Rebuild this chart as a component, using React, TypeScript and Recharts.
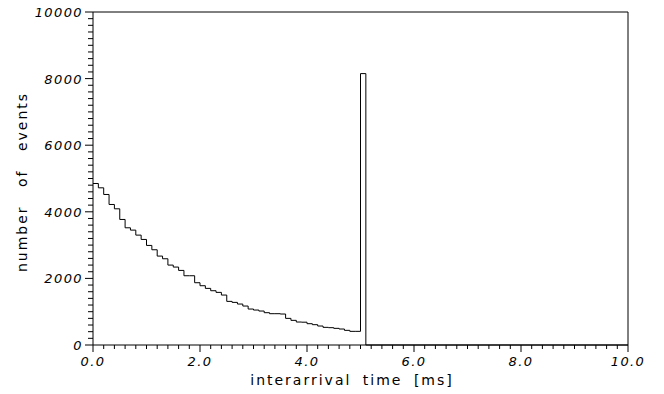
import React from 'react';
import { LineChart, Line, XAxis, YAxis, ReferenceLine } from 'recharts';

// histogram of interarrival times, bins of 0.1 ms starting at 0
const BIN_WIDTH = 0.1;
const counts = [
  4850, 4720, 4520, 4220, 4090, 3770, 3520, 3450, 3300, 3170,
  2990, 2860, 2670, 2590, 2400, 2340, 2240, 2080, 2080, 1870,
  1780, 1700, 1630, 1580, 1500, 1310, 1280, 1230, 1170, 1080,
  1050, 1020, 970, 940, 940, 930, 800, 740, 690, 685,
  640, 610, 570, 530, 520, 500, 480, 440, 410, 410,
  8150,
];
const xMajorTicks = [0, 2, 4, 6, 8, 10];
const xTickLabels = ['0.0', '2.0', '4.0', '6.0', '8.0', '10.0'];
const yMajorTicks = [0, 2000, 4000, 6000, 8000, 10000];
const yTickLabels = ['0', '2000', '4000', '6000', '8000', '10000'];

const X_MAX = 10;
const Y_MAX = 10000;

const xTicks = Array.from({ length: 51 }, (_, i) => +(i * 0.2).toFixed(1));
const yTicks = Array.from({ length: 51 }, (_, i) => i * 200);

// step points: each bin start, then close the last bin back to zero
const data = [
  ...counts.map((c, i) => ({ x: +(i * BIN_WIDTH).toFixed(1), y: c })),
  { x: +(counts.length * BIN_WIDTH).toFixed(1), y: 0 },
  { x: X_MAX, y: 0 },
];

const tickFont = {
  fontFamily: 'DejaVu Sans',
  fontStyle: 'italic',
  fontSize: 13,
  letterSpacing: 1.4,
  fill: '#000',
};

const XTick = (props: any) => {
  const { x, y, payload } = props;
  const idx = xMajorTicks.findIndex((t) => Math.abs(t - payload.value) < 1e-6);
  const major = idx >= 0;
  return (
    <g>
      <line x1={x} x2={x} y1={y} y2={y + (major ? 7 : 4)} stroke="#000" />
      {major && (
        <text x={x} y={y + 21} textAnchor="middle" {...tickFont}>
          {xTickLabels[idx]}
        </text>
      )}
    </g>
  );
};

const YTick = (props: any) => {
  const { x, y, payload } = props;
  const idx = yMajorTicks.indexOf(payload.value);
  const major = idx >= 0;
  return (
    <g>
      <line x1={x - (major ? 8 : 5)} x2={x} y1={y} y2={y} stroke="#000" />
      {major && (
        <text x={x - 10} y={y + 5} textAnchor="end" {...tickFont}>
          {yTickLabels[idx]}
        </text>
      )}
    </g>
  );
};

const titleFont = {
  fontFamily: 'DejaVu Sans',
  fontSize: 14,
  letterSpacing: 2,
  fill: '#000',
};

export default function App() {
  return (
    <div style={{ position: 'absolute', left: 0, top: 0, background: '#fff' }}>
      <LineChart
        width={664}
        height={394}
        data={data}
        margin={{ top: 12, right: 36, bottom: 0, left: 0 }}
      >
        <XAxis
          dataKey="x"
          type="number"
          domain={[0, X_MAX]}
          ticks={xTicks}
          interval={0}
          height={49}
          tickSize={0}
          tickMargin={0}
          tickLine={false}
          axisLine={{ stroke: '#000' }}
          tick={<XTick />}
          label={{
            content: () => (
              <text x={352} y={385} textAnchor="middle" wordSpacing={5} {...titleFont}>
                interarrival time [ms]
              </text>
            ),
          }}
        />
        <YAxis
          type="number"
          domain={[0, Y_MAX]}
          ticks={yTicks}
          interval={0}
          width={93}
          tickSize={0}
          tickMargin={0}
          tickLine={false}
          axisLine={{ stroke: '#000' }}
          tick={<YTick />}
          label={{
            content: () => (
              <text
                x={27}
                y={182}
                textAnchor="middle"
                transform="rotate(-90 27 182)"
                wordSpacing={12}
                {...titleFont}
              >
                number of events
              </text>
            ),
          }}
        />
        <ReferenceLine y={Y_MAX} stroke="#000" />
        <ReferenceLine x={X_MAX} stroke="#000" />
        <Line
          type="stepAfter"
          dataKey="y"
          stroke="#000"
          strokeWidth={1}
          dot={false}
          isAnimationActive={false}
        />
      </LineChart>
    </div>
  );
}
